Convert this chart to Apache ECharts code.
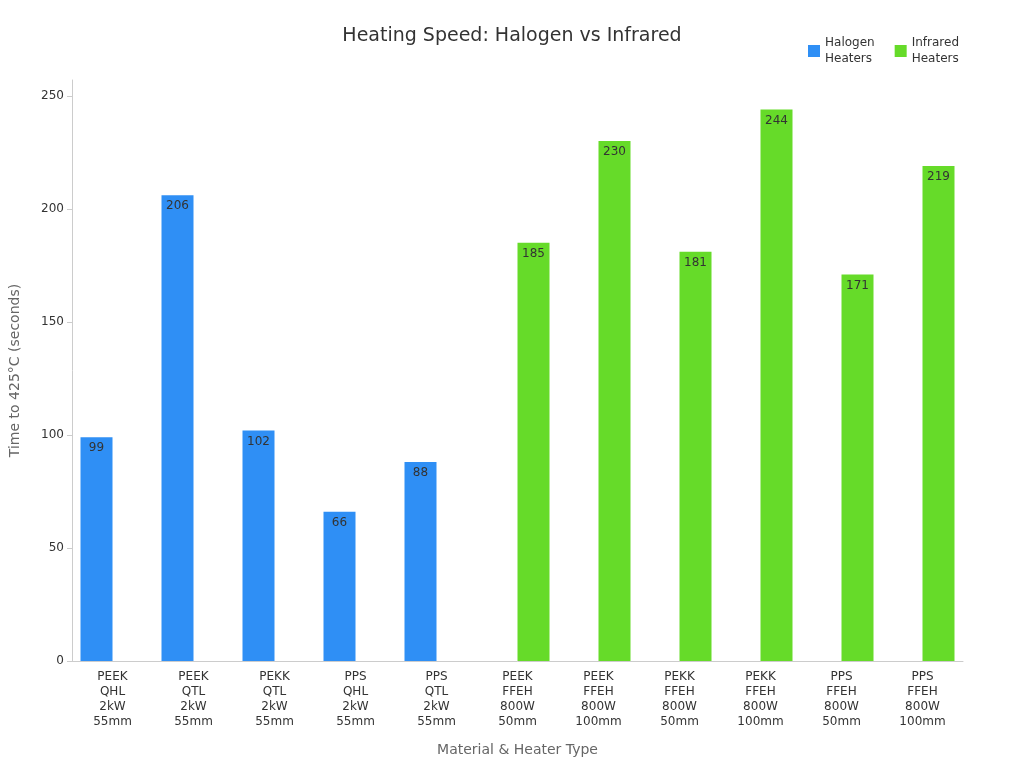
<!DOCTYPE html>
<html>
<head>
<meta charset="utf-8">
<script src="https://cdn.jsdelivr.net/npm/echarts@6/dist/echarts.min.js"></script>
<style>html,body{margin:0;padding:0;background:#fff}#chart{width:1024px;height:768px}</style>
</head>
<body>
<div id="chart"></div>
<script>
// categories and values
const categories = [
  "PEEK\nQHL\n2kW\n55mm", "PEEK\nQTL\n2kW\n55mm", "PEKK\nQTL\n2kW\n55mm",
  "PPS\nQHL\n2kW\n55mm", "PPS\nQTL\n2kW\n55mm",
  "PEEK\nFFEH\n800W\n50mm", "PEEK\nFFEH\n800W\n100mm", "PEKK\nFFEH\n800W\n50mm",
  "PEKK\nFFEH\n800W\n100mm", "PPS\nFFEH\n800W\n50mm", "PPS\nFFEH\n800W\n100mm"
]
const halogen = [99, 206, 102, 66, 88, null, null, null, null, null, null]
const infrared = [null, null, null, null, null, 185, 230, 181, 244, 171, 219]

const font = "DejaVu Sans"
const barLabel = { show: true, position: "insideTop", color: "#333", fontSize: 12, fontFamily: font }

const chart = echarts.init(document.getElementById("chart"))
chart.setOption({
  animation: false,
  textStyle: { fontFamily: font },
  title: {
    text: "Heating Speed: Halogen vs Infrared",
    left: "center", top: 22,
    textStyle: { fontSize: 19, fontWeight: "normal", color: "#333", fontFamily: font }
  },
  legend: {
    right: 60, top: 30, itemWidth: 12, itemHeight: 12, icon: "rect", itemGap: 20,
    textStyle: { fontSize: 12, color: "#333", lineHeight: 16 },
    data: ["Halogen\nHeaters", "Infrared\nHeaters"]
  },
  grid: { left: 68, right: 61, top: 80, bottom: 107 },
  xAxis: {
    type: "category", data: categories,
    name: "Material & Heater Type", nameLocation: "middle", nameGap: 82,
    nameTextStyle: { fontSize: 14, color: "#666" },
    axisTick: { show: false },
    axisLine: { lineStyle: { color: "#ccc" } },
    axisLabel: { color: "#333", fontSize: 12, lineHeight: 15, interval: 0 }
  },
  yAxis: {
    type: "value", min: 0, max: 257, interval: 50,
    name: "Time to 425°C (seconds)", nameLocation: "middle", nameGap: 50,
    nameTextStyle: { fontSize: 14, color: "#666" },
    axisLine: { show: true, lineStyle: { color: "#ccc" } },
    axisTick: { show: true, lineStyle: { color: "#ccc" } },
    axisLabel: { color: "#333", fontSize: 12, showMaxLabel: false },
    splitLine: { show: false }
  },
  series: [
    { name: "Halogen\nHeaters", type: "bar", data: halogen, barWidth: 32, barGap: "0%",
      itemStyle: { color: "#2f8ff5" }, label: barLabel },
    { name: "Infrared\nHeaters", type: "bar", data: infrared, barWidth: 32,
      itemStyle: { color: "#66db29" }, label: barLabel }
  ]
})
</script>
</body>
</html>
